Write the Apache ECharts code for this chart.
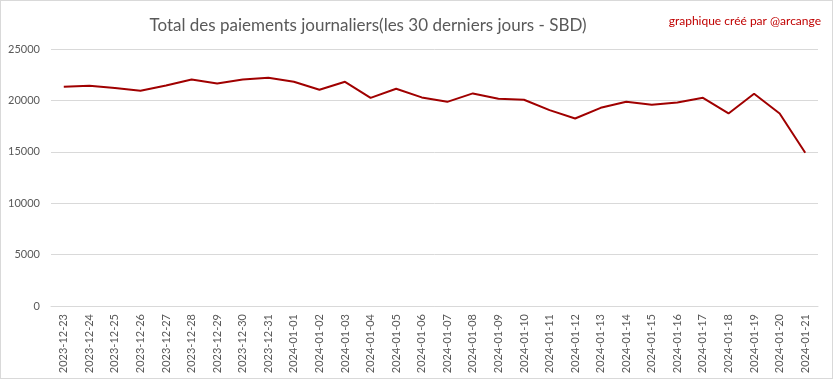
<!DOCTYPE html>
<html><head><meta charset="utf-8">
<script src="https://cdn.jsdelivr.net/npm/echarts@6/dist/echarts.min.js"></script>
<style>
html,body{margin:0;padding:0;background:#fff;}
#c{width:831px;height:377px;border:1px solid #d9d9d9;}
</style></head><body>
<div id="c"></div>
<script>
const categories = ["2023-12-23","2023-12-24","2023-12-25","2023-12-26","2023-12-27","2023-12-28","2023-12-29","2023-12-30","2023-12-31","2024-01-01","2024-01-02","2024-01-03","2024-01-04","2024-01-05","2024-01-06","2024-01-07","2024-01-08","2024-01-09","2024-01-10","2024-01-11","2024-01-12","2024-01-13","2024-01-14","2024-01-15","2024-01-16","2024-01-17","2024-01-18","2024-01-19","2024-01-20","2024-01-21"];
const payments = [21330,21420,21200,20940,21450,22040,21650,22040,22200,21810,21030,21810,20250,21130,20290,19860,20680,20160,20060,19050,18240,19280,19860,19570,19800,20250,18730,20640,18730,14900];
const yTicks = {min:0, max:25000, interval:5000};
const titleText = "Total des paiements journaliers(les 30 derniers jours - SBD)";
const creditText = "graphique créé par @arcange";

const chart = echarts.init(document.getElementById('c'), null, {renderer:'canvas'});
chart.setOption({
  animation:false,
  backgroundColor:'#fff',
  textStyle:{fontFamily:'Lato'},
  title:[
    {text:titleText, left:362, top:11, textAlign:'center',
     textStyle:{fontFamily:'Lato', fontSize:17, fontWeight:'normal', color:'#595959'}},
    {text:creditText, right:6, top:9,
     textStyle:{fontFamily:'Lato', fontSize:12, fontWeight:'normal', color:'#c00000'}}
  ],
  grid:{left:50, right:14, top:48, bottom:72, containLabel:false},
  xAxis:{
    type:'category', data:categories, boundaryGap:true,
    axisLine:{show:true, lineStyle:{color:'#d9d9d9'}},
    axisTick:{show:false},
    axisLabel:{rotate:90, interval:0, fontSize:11, color:'#595959', fontFamily:'Lato', margin:8}
  },
  yAxis:{
    type:'value', min:yTicks.min, max:yTicks.max, interval:yTicks.interval,
    axisLine:{show:false}, axisTick:{show:false},
    axisLabel:{fontSize:11, color:'#595959', fontFamily:'Lato', margin:11, formatter:v=>String(v)},
    splitLine:{lineStyle:{color:'#d9d9d9', width:1}}
  },
  series:[{
    type:'line', data:payments, symbol:'none', smooth:false,
    lineStyle:{color:'#a00000', width:2}
  }]
});
</script>
</body></html>
